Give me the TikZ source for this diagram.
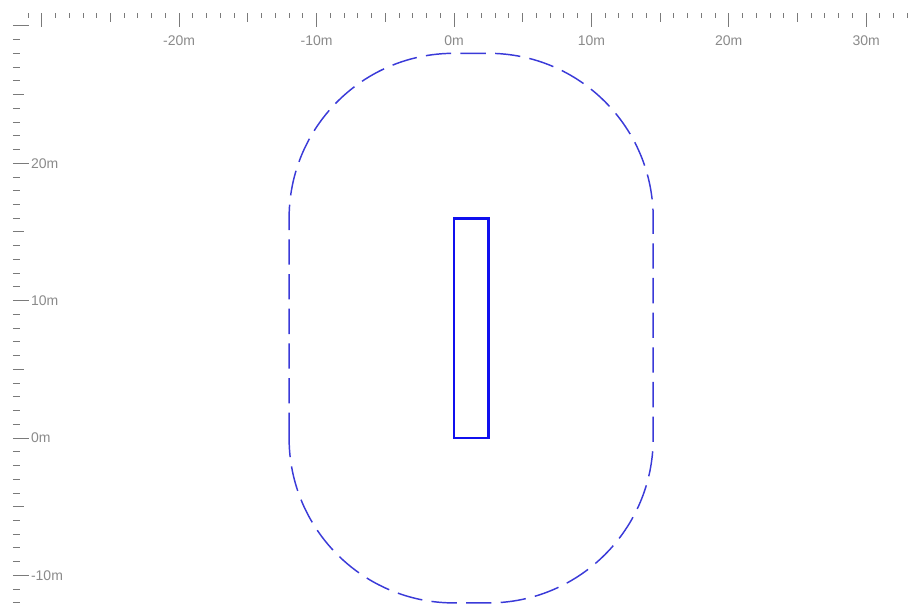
\documentclass[tikz,border=0pt]{standalone}
\usepackage{fontspec}
\setmainfont{Liberation Sans}
\usetikzlibrary{positioning}
\definecolor{rulergray}{HTML}{7A7A7A}
\definecolor{labelgray}{HTML}{8A8A8A}
\definecolor{zoneblue}{HTML}{3A3AD8}
\definecolor{hullblue}{HTML}{1010EE}

\begin{document}
\begin{tikzpicture}[
    x=10.305pt, y=10.305pt,
    tick/.style={rulergray, line width=0.7pt},
    ticklabel/.style={font=\fontsize{10.5}{12}\selectfont, text=labelgray, inner sep=0pt},
    zone/.style={zoneblue, line width=1.1pt, dash pattern=on 19pt off 7pt},
    hull/.style={hullblue, line width=2.1pt},
]
\useasboundingbox (-33.04,-12.01) rectangle (33.48,31.88);

% Top ruler
\foreach \i in {-31,...,33} {
  \pgfmathsetmacro{\len}{mod(\i,10)==0 ? 1.0 : (mod(\i,5)==0 ? 0.62 : 0.36)}
  \draw[tick] (\i,30.93) -- ++(0,-\len);
}
\foreach \i in {-20,-10,...,30}
  \node[ticklabel] (tx\i) at (\i,28.9) {\i m};

% Left ruler
\foreach \i in {-12,...,30} {
  \pgfmathsetmacro{\len}{mod(\i,10)==0 ? 1.16 : (mod(\i,5)==0 ? 0.8 : 0.51)}
  \draw[tick] (-32.10,\i) -- ++(\len,0);
}
\foreach \i in {-10,0,10,20}
  \node[ticklabel, anchor=west] (ty\i) at (-30.8,\i) {\i m};

% Clearance zone
\draw[zone] (-12,0) -- (-12,16)
  arc[start angle=180, end angle=90, radius=12] -- (2.5,28)
  arc[start angle=90, end angle=0, radius=12] -- (14.5,0)
  arc[start angle=0, end angle=-90, radius=12] -- (0,-12)
  arc[start angle=-90, end angle=-180, radius=12] -- cycle;

% Hull
\draw[hull] (0,0) rectangle (2.5,16);

\end{tikzpicture}
\end{document}
